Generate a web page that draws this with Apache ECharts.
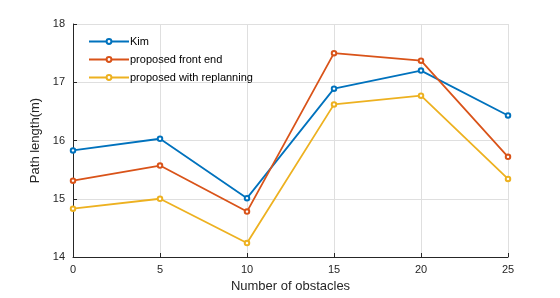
<!DOCTYPE html>
<html><head><meta charset="utf-8">
<script src="https://cdn.jsdelivr.net/npm/echarts@6/dist/echarts.min.js"></script>
<style>html,body{margin:0;padding:0;background:#fff}#c{width:560px;height:298px}</style>
</head><body><div id="c"></div>
<script>
var obstacles = [0, 5, 10, 15, 20, 25];
var kim = [15.83, 16.03, 15.01, 16.89, 17.20, 16.43];
var frontEnd = [15.31, 15.57, 14.78, 17.50, 17.37, 15.72];
var replanning = [14.83, 15.00, 14.24, 16.62, 16.77, 15.34];
var yTicks = [14, 15, 16, 17, 18];

function pairs(v){ return obstacles.map(function(x,i){ return [x, v[i]]; }); }
function mk(name, data, color){
  return { name: name, type: 'line', data: pairs(data), symbol: 'emptyCircle', symbolSize: 4.5,
    lineStyle: { color: color, width: 1.8 }, itemStyle: { color: color, borderColor: color, borderWidth: 1.5 } };
}
var chart = echarts.init(document.getElementById('c'), null, {renderer: 'canvas'});
chart.setOption({
  animation: false,
  textStyle: { fontFamily: 'Liberation Sans, Arial, sans-serif' },
  grid: { left: 73, right: 52, top: 24, bottom: 41 },
  legend: {
    orient: 'vertical', left: 83, top: 31, itemWidth: 40, itemHeight: 6, itemGap: 7,
    textStyle: { fontSize: 11, color: '#000', padding: [0,0,0,-4] },
    data: ['Kim', 'proposed front end', 'proposed with replanning']
  },
  xAxis: {
    type: 'value', min: 0, max: 25, interval: 5,
    name: 'Number of obstacles', nameLocation: 'middle', nameGap: 23,
    nameTextStyle: { fontSize: 13, color: '#262626' },
    axisLine: { show: true, lineStyle: { color: '#262626', width: 1 } },
    axisTick: { show: true, inside: true, length: 4, lineStyle: { color: '#262626' } },
    axisLabel: { fontSize: 11, color: '#262626', margin: 7 },
    splitLine: { show: true, lineStyle: { color: '#dfdfdf', width: 1 } }
  },
  yAxis: {
    type: 'value', min: yTicks[0], max: yTicks[yTicks.length-1], interval: 1,
    name: 'Path length(m)', nameLocation: 'middle', nameGap: 25,
    nameTextStyle: { fontSize: 13, color: '#262626' },
    axisLine: { show: true, lineStyle: { color: '#262626', width: 1 } },
    axisTick: { show: true, inside: true, length: 4, lineStyle: { color: '#262626' } },
    axisLabel: { fontSize: 11, color: '#262626', margin: 8 },
    splitLine: { show: true, lineStyle: { color: '#dfdfdf', width: 1 } }
  },
  series: [
    mk('Kim', kim, '#0072BD'),
    mk('proposed front end', frontEnd, '#D95319'),
    mk('proposed with replanning', replanning, '#EDB120')
  ]
});
</script></body></html>
